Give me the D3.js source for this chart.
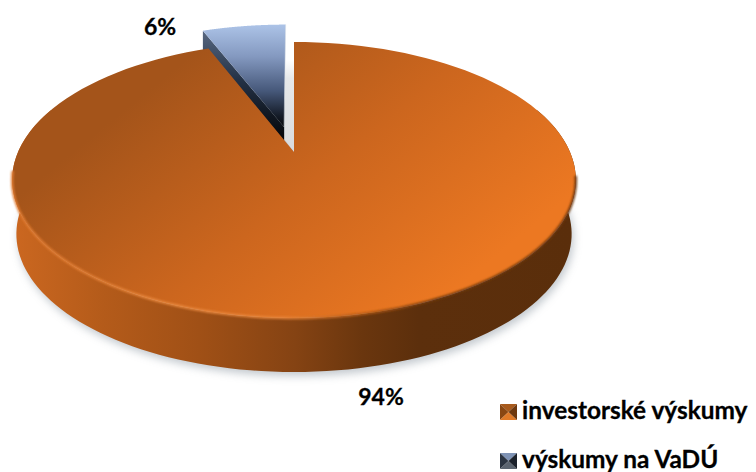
<!DOCTYPE html>
<html><head><meta charset="utf-8">
<style>html,body{margin:0;padding:0;background:#fff}svg{display:block}text{font-family:Lato,"Open Sans",sans-serif;font-weight:700;fill:#000;stroke:#000;stroke-width:.3}</style>
<script src="https://cdn.jsdelivr.net/npm/d3@7/dist/d3.min.js"></script>
</head><body><svg id="c" width="756" height="472"></svg>
<script>
const categories = ["investorské výskumy", "výskumy na VaDÚ"];
const values = [94, 6];
const labels = ["94%", "6%"];

const svg = d3.select("#c");
const defs = svg.append("defs");
function grad(id, x1, y1, x2, y2, stops) {
  const g = defs.append("linearGradient").attr("id", id).attr("gradientUnits", "userSpaceOnUse")
    .attr("x1", x1).attr("y1", y1).attr("x2", x2).attr("y2", y2);
  stops.forEach(s => g.append("stop").attr("offset", s[0]).attr("stop-color", s[1]).attr("stop-opacity", s[2] == null ? 1 : s[2]));
}
function blur(id, sd) {
  defs.append("filter").attr("id", id).attr("x", "-10%").attr("y", "-10%").attr("width", "120%").attr("height", "120%")
    .append("feGaussianBlur").attr("stdDeviation", sd);
}
grad("top", 210, 40, 430, 310, [[0, "#a4541a"], [0.5, "#cc661e"], [1, "#ec7822"]]);
grad("wall", 14, 0, 576, 0, [[0, "#cb6720"], [0.16, "#b45b1a"], [0.33, "#a05016"], [0.5, "#854313"], [0.62, "#6a360e"], [0.72, "#5c2f0c"], [1, "#5a2e0b"]]);
grad("blueFace", 0, 24, 0, 132, [[0, "#adc4e8"], [0.3, "#8499c0"], [0.62, "#46587a"], [0.85, "#151c28"], [1, "#000"]]);
grad("blueWall", 0, 32, 0, 138, [[0, "#56667f"], [0.45, "#243246"], [1, "#05070b"]]);
grad("gap", 0, 60, 0, 152, [[0, "#fff"], [0.2, "#e6e8ea"], [1, "#d8dbde"]]);
grad("rim", 14, 0, 576, 0, [[0, "#e07a30"], [0.3, "#ea8a40"], [0.48, "#e8853a"], [0.62, "#b45a18"], [0.75, "#6e380e"], [1, "#6a360e"]]);
blur("soft", 4); blur("b1", 0.9);

// perspective projection of the pie's disc onto the screen
const cx = 294, R = 276, k = 0.2029;
const sy = d3.scaleLinear().domain([0, 1]).range([152, 50.5]);
function proj(u, v) { const d = 1 + k * v; return [cx + R * u / d, sy(v) / d]; }
const explode = 0.2;

const pie = d3.pie().sort(null).value(d => d);
const arcs = pie(values);
const line = d3.line();
function rim(a0, a1, ox, oy) {
  return d3.range(0, 121).map(i => {
    const a = a0 + (a1 - a0) * i / 120;
    return proj(Math.sin(a) + ox, Math.cos(a) + oy);
  });
}
const lower = p => [cx + (p[0] - cx) * 0.985, p[1] + 54];

const [main, small] = arcs;

// soft ground shadow
const ground = rim(main.startAngle, 2 * Math.PI, 0, 0).map(lower).map(p => [p[0] + 2, p[1] + 4]);
svg.append("path").attr("d", line(ground) + "Z").attr("fill", "#aeb6bd").attr("opacity", 0.75).attr("filter", "url(#soft)");

// gap behind the exploded slice
const c0 = proj(0, 0);
svg.append("path").attr("d", line([[c0[0] - 9, 60], [c0[0], 60], c0, [c0[0] - 9, 140]]) + "Z").attr("fill", "url(#gap)");

// exploded slice
const mid = (small.startAngle + small.endAngle) / 2;
const ox = Math.sin(mid) * explode, oy = Math.cos(mid) * explode;
const apex = proj(ox, oy);
const blueRim = rim(small.startAngle, small.endAngle, ox, oy);
const bl = blueRim[0], wallH = 30;
svg.append("path").attr("d", line([bl, apex, [apex[0], apex[1] + wallH], [bl[0], bl[1] + wallH]]) + "Z").attr("fill", "url(#blueWall)");
svg.append("path").attr("d", line([apex].concat(blueRim)) + "Z").attr("fill", "url(#blueFace)");
svg.append("path").attr("d", line([apex, blueRim[120]])).attr("fill", "none").attr("stroke", "#d9dfe6").attr("stroke-width", 1).attr("opacity", 0.5);

// main slice: wall
const a70 = 70 * Math.PI / 180, a290 = 290 * Math.PI / 180;
const frontTop = rim(a70, a290, 0, 0);
const frontBot = frontTop.map(lower).reverse();
svg.append("path").attr("d", line(frontTop.concat(frontBot)) + "Z").attr("fill", "url(#wall)");

// main slice: top face
const topPts = [c0].concat(rim(main.startAngle, main.endAngle, 0, 0));
svg.append("path").attr("d", line(topPts) + "Z").attr("fill", "url(#top)");
// bevel along the front edge
const a100 = 100 * Math.PI / 180, a262 = 262 * Math.PI / 180;
svg.append("path").attr("d", line(rim(a100, a262, 0, 0))).attr("fill", "none")
  .attr("stroke", "url(#rim)").attr("stroke-width", 2.4).attr("filter", "url(#b1)");

// percent labels
svg.append("text").attr("x", 381).attr("y", 405).attr("text-anchor", "middle").attr("font-size", 23).text(labels[0]);
svg.append("text").attr("x", 160).attr("y", 35).attr("text-anchor", "middle").attr("font-size", 23).text(labels[1]);

// legend
const markerColors = [
  ["#a85a1c", "#8a4712", "#e07a28", "#6e380e"],
  ["#7f93b5", "#2b3442", "#5b6470", "#1b212b"]
];
const ly = d3.scalePoint().domain(categories).range([419, 468]);
categories.forEach((c, i) => {
  const y = ly(c), x0 = 500, x1 = 517, t = y - 15, b = y + 1, mx = (x0 + x1) / 2, my = (t + b) / 2;
  const tri = [
    [[x0, t], [x1, t], [mx, my]],
    [[x0, t], [x0, b], [mx, my]],
    [[x0, b], [x1, b], [mx, my]],
    [[x1, t], [x1, b], [mx, my]]
  ];
  tri.forEach((p, j) => svg.append("path").attr("d", line(p) + "Z").attr("fill", markerColors[i][j]));
  svg.append("text").attr("x", 522).attr("y", y).attr("font-size", 24.4).text(c);
});
</script></body></html>
